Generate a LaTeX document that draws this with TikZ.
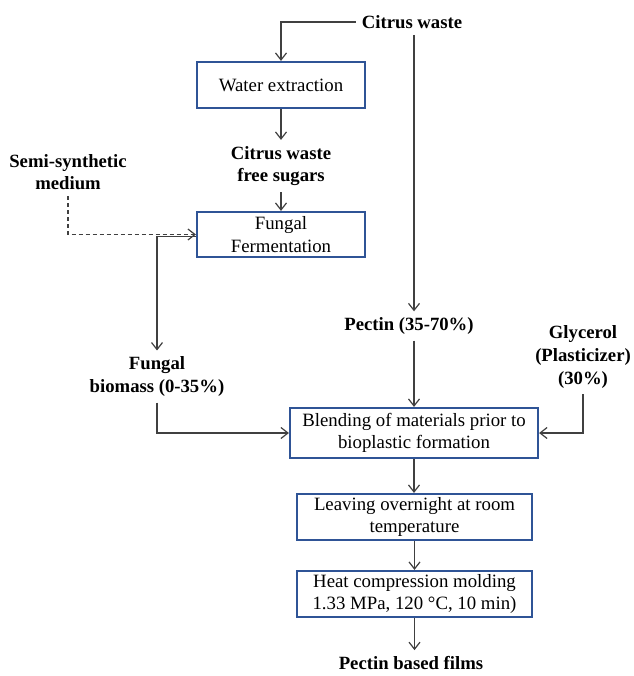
\documentclass[tikz,border=0pt]{standalone}
\usepackage{fontspec}
\setmainfont{Liberation Serif}
\usepackage{xcolor}
\usetikzlibrary{arrows.meta,positioning,calc}
\definecolor{boxblue}{HTML}{2F5496}
\definecolor{linegray}{HTML}{404040}

\begin{document}
\begin{tikzpicture}[x=1pt,y=-1pt,>={Straight Barb[length=7pt,width=11pt]},font=\fontsize{18.8}{22.5}\selectfont]
  \tikzstyle{procbox}=[draw=boxblue,line width=2.2pt,align=center,inner sep=2pt]
  \tikzstyle{inlabel}=[align=center,font=\fontsize{18.7}{22.7}\selectfont\bfseries,inner sep=6pt]
  \tikzstyle{flow}=[->,draw=linegray,line width=1.2pt]
  \useasboundingbox (0,0) rectangle (633,676);
  % materials and steps
  \node[inlabel] (cwaste) at (412,22) {Citrus waste};
  \node[procbox,minimum width=168pt,minimum height=46pt] (water) at (281,85) {Water extraction};
  \node[inlabel] (sugars) at (281,166) {Citrus waste\\free sugars};
  \node[procbox,minimum width=168pt,minimum height=45pt] (ferm) at (281,234.5) {Fungal\\Fermentation};
  \node[inlabel] (semi) at (68,172) {Semi-synthetic\\medium};
  \node[inlabel] (biomass) at (157,376.5) {Fungal\\biomass (0-35\%)};
  \node[inlabel] (pectin) at (409,326) {Pectin (35-70\%)};
  \node[inlabel] (glycerol) at (583,357) {Glycerol\\(Plasticizer)\\(30\%)};
  \node[procbox,minimum width=248pt,minimum height=50pt] (blend) at (414,433) {Blending of materials prior to\\bioplastic formation};
  \node[procbox,minimum width=235pt,minimum height=46pt] (leave) at (414.5,517) {Leaving overnight at room\\temperature};
  \node[procbox,minimum width=235pt,minimum height=46pt] (heat) at (414.5,594) {Heat compression molding\\1.33 MPa, 120 °C, 10 min)};
  \node[inlabel] (films) at (411,663) {Pectin based films};
  % connectors
  \draw[flow] (cwaste.west) -| (water.north);
  \draw[flow] (cwaste.south -| blend.north) -- (pectin.north -| blend.north);
  \draw[flow] (water.south) -- (sugars.north);
  \draw[flow] (sugars.south) -- (ferm.north);
  \draw[flow,dash pattern=on 4pt off 3pt] (semi.south) |- (ferm.west);
  \draw[flow] ([yshift=-2pt]ferm.west) -| (biomass.north);
  \draw[flow] (biomass.south) |- (blend.west);
  \draw[flow] (glycerol.south) |- (blend.east);
  \draw[flow] (pectin.south -| blend.north) -- (blend.north);
  \draw[flow] (blend.south) -- (blend.south |- leave.north);
  \draw[flow] (leave.south) -- (heat.north);
  \draw[flow] (heat.south) -- (heat.south |- films.north);
\end{tikzpicture}
\end{document}
